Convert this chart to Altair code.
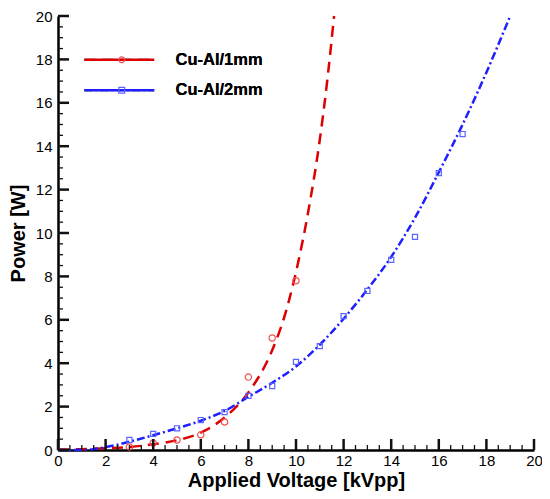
import altair as alt
import pandas as pd

# ---- data ----
series_names = ["Cu-Al/1mm", "Cu-Al/2mm"]

# measured points
v_1mm = [3, 4, 5, 6, 7, 8, 9, 10]
p_1mm = [0.14, 0.32, 0.46, 0.70, 1.29, 3.36, 5.16, 7.80]
v_2mm = [3, 4, 5, 6, 7, 8, 9, 10, 11, 12, 13, 14, 15, 16, 17]
p_2mm = [0.46, 0.74, 1.00, 1.38, 1.75, 2.49, 2.95, 4.06, 4.79, 6.17, 7.33, 8.76, 9.82, 12.76, 14.56]

# fitted curves
fit_v_1mm = [0, 1, 2, 3, 4, 5, 6, 7, 8, 9, 9.5, 10, 10.5, 11, 11.3, 11.6]
fit_p_1mm = [0.02, 0.04, 0.08, 0.14, 0.26, 0.45, 0.80, 1.50, 2.65, 4.60, 6.10, 8.20, 10.90, 14.30, 16.90, 20.0]
fit_v_2mm = [0, 1, 1.5, 2, 3, 4, 5, 6, 7, 8, 9, 10, 11, 12, 13, 14, 15, 16, 17, 18, 19]
fit_p_2mm = [0.0, 0.01, 0.04, 0.13, 0.38, 0.68, 1.00, 1.35, 1.80, 2.45, 3.10, 3.85, 4.85, 6.05, 7.40,
             8.90, 10.70, 12.80, 15.00, 17.40, 20.0]

x_major = [0, 2, 4, 6, 8, 10, 12, 14, 16, 18, 20]
y_major = [0, 2, 4, 6, 8, 10, 12, 14, 16, 18, 20]
x_minor = [m + k * 0.5 for m in x_major[:-1] for k in (1, 2, 3)]
y_minor = [m + k * 0.5 for m in y_major[:-1] for k in (1, 2, 3)]

line_colors = ["#dc0000", "#1e1eff"]
marker_colors = ["#ee5050", "#5a64ff"]

# ---- tables ----
fit_df = pd.concat([
    pd.DataFrame({"v": fit_v_1mm, "p": fit_p_1mm, "series": series_names[0]}),
    pd.DataFrame({"v": fit_v_2mm, "p": fit_p_2mm, "series": series_names[1]}),
], ignore_index=True)
pts_df = pd.concat([
    pd.DataFrame({"v": v_1mm, "p": p_1mm, "series": series_names[0]}),
    pd.DataFrame({"v": v_2mm, "p": p_2mm, "series": series_names[1]}),
], ignore_index=True)

W, H = 476, 434
FONT = "Liberation Sans"
xs = alt.Scale(domain=[0, 20], nice=False, zero=False)
ys = alt.Scale(domain=[0, 20], nice=False, zero=False)

# tick lengths expressed in axis units (major ~11 px, minor ~5 px)
YL_MAJ, YL_MIN = 11 * 20 / H, 5 * 20 / H
XL_MAJ, XL_MIN = 11 * 20 / W, 5 * 20 / W


def tick_segments(xvals, yvals, length, on_x, tag):
    rows = []
    vals = xvals if on_x else yvals
    for i, t in enumerate(vals):
        if on_x:
            rows += [{"id": f"{tag}{i}", "v": t, "p": 0.0}, {"id": f"{tag}{i}", "v": t, "p": length}]
        else:
            rows += [{"id": f"{tag}{i}", "v": 0.0, "p": t}, {"id": f"{tag}{i}", "v": length, "p": t}]
    return pd.DataFrame(rows)


major_ticks = pd.concat([tick_segments(x_major, None, YL_MAJ, True, "xM"),
                         tick_segments(None, y_major, XL_MAJ, False, "yM")], ignore_index=True)
minor_ticks = pd.concat([tick_segments(x_minor, None, YL_MIN, True, "xm"),
                         tick_segments(None, y_minor, XL_MIN, False, "ym")], ignore_index=True)

common_axis = dict(
    grid=False, ticks=False, tickSize=0, domainColor="black", domainWidth=2.5,
    labelFont=FONT, labelFontSize=15, labelColor="black", labelFlush=False,
    labelOverlap=False, titleFont=FONT, titleFontSize=20, titleFontWeight="bold",
    titleColor="black",
)
x_axis = alt.Axis(values=x_major, labelPadding=3, titlePadding=2, **common_axis)
y_axis = alt.Axis(values=y_major, labelPadding=6, titlePadding=7, **common_axis)


def X():
    return alt.X("v:Q", scale=xs, axis=x_axis, title="Applied Voltage [kVpp]")


def Y():
    return alt.Y("p:Q", scale=ys, axis=y_axis, title="Power [W]")


line_legend = alt.Legend(
    orient="none", legendX=53, legendY=35.5, title=None, padding=0,
    symbolType="M-7,0H7", symbolSize=100, symbolStrokeWidth=2.5,
    labelFont=FONT, labelFontSize=16.5, labelFontWeight="bold", labelColor="black",
    labelOffset=48, rowPadding=13.5,
)
point_legend = alt.Legend(
    orient="none", legendX=55.5, legendY=35.5, title=None, padding=0,
    symbolSize=34, symbolStrokeWidth=1.2,
    labelFont=FONT, labelFontSize=16.5, labelFontWeight="bold", labelExpr="''",
    rowPadding=13.5,
)

# inward ticks as short line segments through the scales
tick_major_layer = alt.Chart(major_ticks).mark_line(strokeWidth=2.5, color="#111111").encode(
    x=X(), y=Y(), detail="id:N", order=alt.Order("p:Q"))
tick_minor_layer = alt.Chart(minor_ticks).mark_line(strokeWidth=1.3, color="#111111").encode(
    x=X(), y=Y(), detail="id:N", order=alt.Order("p:Q"))

lines = alt.Chart(fit_df).mark_line(strokeWidth=2.5, interpolate="monotone").encode(
    x=X(), y=Y(),
    color=alt.Color("series:N", scale=alt.Scale(range=line_colors), legend=line_legend),
    strokeDash=alt.StrokeDash("series:N", scale=alt.Scale(range=[[11, 7], [8, 3, 2, 3]]),
                              legend=line_legend),
)

points = alt.Chart(pts_df).mark_point(filled=False, strokeWidth=1.2, opacity=1).encode(
    x=X(), y=Y(),
    stroke=alt.Stroke("series:N", scale=alt.Scale(range=marker_colors), legend=point_legend),
    shape=alt.Shape("series:N", scale=alt.Scale(range=["circle", "square"]), legend=point_legend),
    size=alt.Size("series:O", scale=alt.Scale(range=[40, 26]), legend=None),
)

chart = alt.layer(lines, points, tick_major_layer, tick_minor_layer).resolve_scale(
    color="independent", stroke="independent", shape="independent"
).properties(
    width=W, height=H,
    autosize=alt.AutoSizeParams(type="none"),
    padding={"left": 50, "top": 8, "right": 8, "bottom": 41},
    background="white",
).configure_view(stroke=None)

chart.save("out.html", embed_options={"renderer": "svg", "actions": False})
